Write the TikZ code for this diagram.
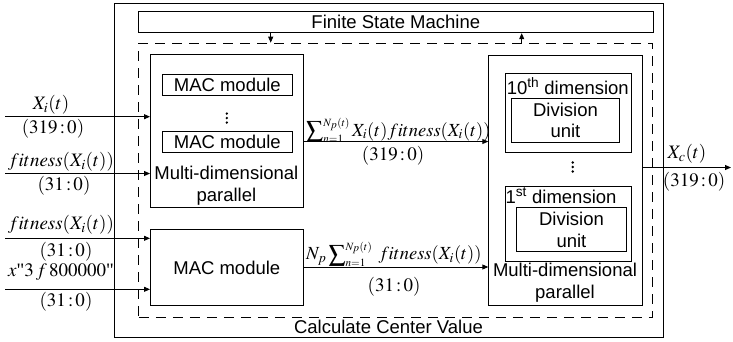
\documentclass[tikz,border=0pt]{standalone}
\usepackage{mathptmx}
\usepackage{fontspec}
\setmainfont{Liberation Serif}
\setsansfont{Liberation Sans}
\usetikzlibrary{arrows.meta}
\tikzset{
  box/.style={draw, line width=0.9pt, inner sep=0pt, align=center},
  sans/.style={font=\sffamily\fontsize{18.5}{21.6}\selectfont},
  lab/.style={font=\rmfamily\fontsize{19}{22}\selectfont, inner sep=0pt},
  sumlab/.style={lab, font=\rmfamily\fontsize{18.5}{22}\selectfont},
  arr/.style={line width=0.9pt, -{Triangle[length=6pt,width=5pt]}},
}
\newcommand{\rect}[6]{% name, x1, y1, x2, y2, text
  \node[box, sans, anchor=north west, minimum width=#4pt-#2pt, minimum height=#5pt-#3pt] (#1) at (#2,#3) {#6};}
% summation with small side limits
\newcommand{\bigsum}[2]{\mathop{\raisebox{-0.1em}{\scalebox{1.3}{$\textstyle\sum$}}}\nolimits_{\scriptscriptstyle #1}^{\scriptscriptstyle #2}}
\newcommand{\rng}[1]{(#1\mskip2mu{:}\mskip2mu0)}
\begin{document}
\begin{tikzpicture}[x=1pt,y=-1pt]
\useasboundingbox (0,0) rectangle (733,341);

% enclosing block and the controller
\rect{outer}{113.5}{2.5}{663}{337}{}
\rect{fsm}{138}{10.7}{652.7}{32.3}{Finite State Machine}
\node[box, dashed, dash pattern=on 10pt off 7pt, anchor=north west,
      minimum width=513.4pt, minimum height=274.3pt] (dash) at (138.3,42.7) {};
\node[sans, anchor=base] (title) at (388.5,333) {Calculate Center Value};

% control handshake between the FSM and the datapath
\coordinate (ctrlA) at (270.7,0);
\coordinate (ctrlB) at (521.7,0);
\draw[arr] (fsm.south -| ctrlA) -- (dash.north -| ctrlA);
\draw[arr] (dash.north -| ctrlB) -- (fsm.south -| ctrlB);

% multi-dimensional MAC array
\rect{mdp1}{150}{54}{302.7}{207}{}
\rect{mac1}{161.7}{74}{292}{95}{MAC module}
\rect{mac2}{161.7}{131}{292}{151.7}{MAC module}
\foreach \yy in {113.5,118,122.5} \fill (226.8,\yy) circle (1.3pt);
\node[sans, anchor=base] (mdp1a) at (226.4,179.3) {Multi-dimensional};
\node[sans, anchor=base] (mdp1b) at (226.4,201.2) {parallel};

% scalar MAC
\rect{macl}{150}{229.3}{302.7}{305}{MAC module}

% division array
\rect{mdp2}{488.3}{55}{641.7}{304.5}{}
\rect{dim10}{505}{72.7}{630.7}{151.7}{}
\node[sans, anchor=base] (dim10t) at (567.8,94.5) {10\textsuperscript{th} dimension};
\rect{div10}{510.7}{98.3}{619.3}{141.7}{Division\\unit}
\foreach \yy in {162.5,167,171.5} \fill (572.7,\yy) circle (1.3pt);
\rect{dim1}{505}{185.7}{630.7}{261}{}
\node[sans, anchor=base] (dim1t) at (561,203.5) {1\textsuperscript{st} dimension};
\rect{div1}{516}{207.3}{626}{251}{Division\\unit}
\node[sans, anchor=base] (mdp2a) at (565,276.7) {Multi-dimensional};
\node[sans, anchor=base] (mdp2b) at (565,298.3) {parallel};

% inputs
\coordinate (in1) at (5,116.7);
\coordinate (in2) at (5,173.5);
\coordinate (in3) at (5,238.3);
\coordinate (in4) at (5,289.3);
\draw[arr] (in1) -- (in1 -| mdp1.west);
\draw[arr] (in2) -- (in2 -| mdp1.west);
\draw[arr] (in3) -- (in3 -| macl.west);
\draw[arr] (in4) -- (in4 -| macl.west);
\node[lab] (l1a) at (51,105) {$X_i(t)$};
\node[lab] (l1b) at (53,128.3) {$\rng{319}$};
\node[lab] (l2a) at (61,161.5) {$fitness(X_i(t))$};
\node[lab] (l2b) at (64,186) {$\rng{31}$};
\node[lab] (l3a) at (61,225) {$fitness(X_i(t))$};
\node[lab] (l3b) at (66,251.5) {$\rng{31}$};
\node[lab] (l4a) at (61,272) {$x$\textquotedbl$3\,f\,800000$\textquotedbl};
\node[lab] (l4b) at (66,302) {$\rng{31}$};

% datapath between the blocks
\coordinate (m1) at (0,141.5);
\coordinate (m2) at (0,267);
\draw[arr] (m1 -| mdp1.east) -- (m1 -| mdp2.west);
\draw[arr] (m2 -| macl.east) -- (m2 -| mdp2.west);
\node[sumlab, anchor=base west] (s1a) at (306,136) {$\bigsum{n=1}{N_p(t)} X_i(t)fitness(X_i(t))$};
\node[lab] (s1b) at (393,156) {$\rng{319}$};
\node[sumlab, anchor=base west] (s2a) at (306,259.5) {$N_p\bigsum{n=1}{N_p(t)}\; fitness(X_i(t))$};
\node[lab] (s2b) at (394,286.5) {$\rng{31}$};

% output
\coordinate (out) at (731,167.5);
\draw[arr] (out -| mdp2.east) -- (out);
\node[lab] (o1a) at (687,154) {$X_c(t)$};
\node[lab] (o1b) at (694,181.7) {$\rng{319}$};
\end{tikzpicture}
\end{document}
